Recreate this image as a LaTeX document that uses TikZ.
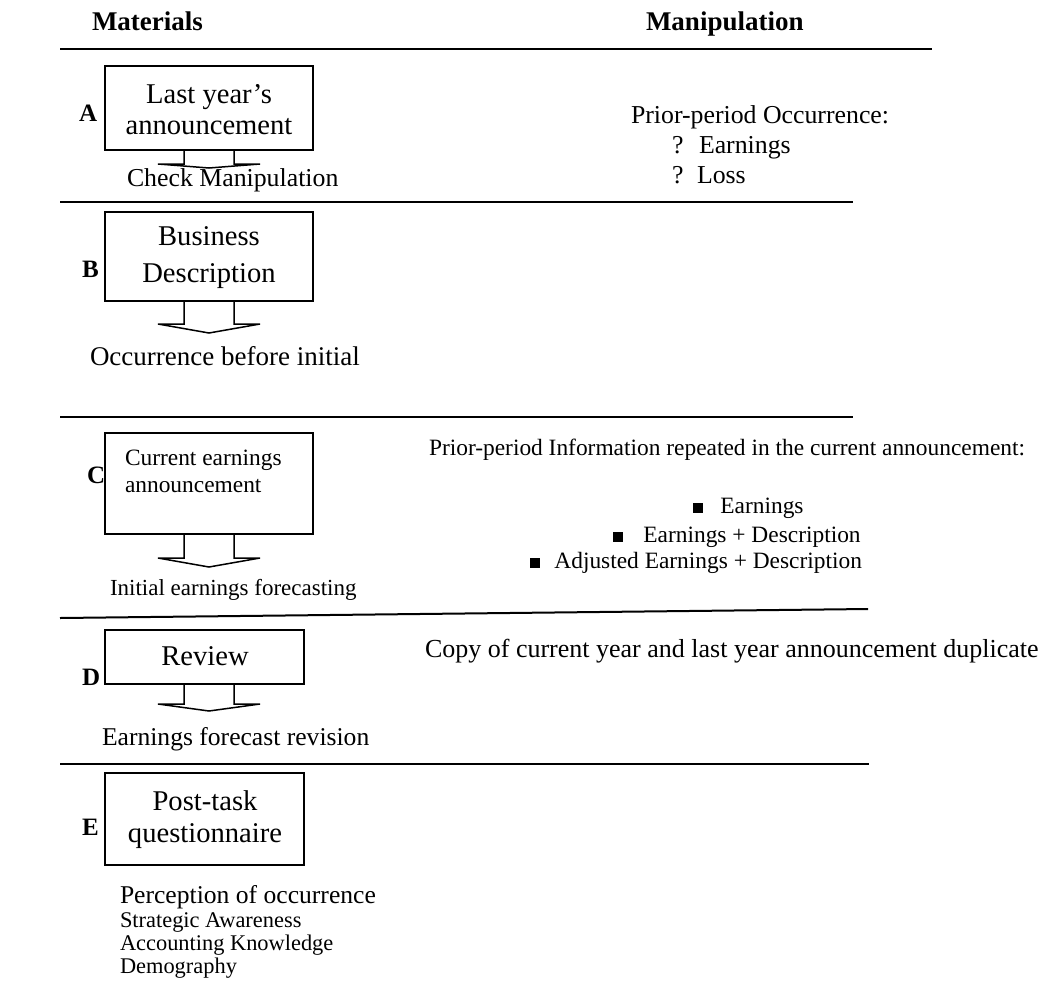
\documentclass[tikz,border=0pt]{standalone}
\usepackage{fontspec}
\setmainfont{Liberation Serif}
\usetikzlibrary{calc}
\newcommand\fs[1]{\fontsize{#1}{#1}\selectfont}
\newcommand\fatarr[4]{\draw[arrline] ($(#1.south)+(#2-25,0)$) -- ($(#1.south)+(#2-25,#3)$) -- ($(#1.south)+(#2-51,#3)$) -- ($(#1.south)+(#2,#3+#4)$) -- ($(#1.south)+(#2+51,#3)$) -- ($(#1.south)+(#2+25,#3)$) -- ($(#1.south)+(#2+25,0)$);}
\begin{document}
\begin{tikzpicture}[x=0.5pt,y=-0.5pt,
  box/.style={draw,line width=0.75pt,inner sep=0pt,outer sep=0pt},
  sep/.style={line width=1pt},
  arrline/.style={line width=0.75pt,line join=miter},
  txt/.style={inner sep=0pt,outer sep=0pt,anchor=base west},
  ctxt/.style={inner sep=0pt,outer sep=0pt,anchor=base},
  lab/.style={txt,font=\bfseries\fs{12.5}},
  big/.style={font=\fs{14.3}},
  mid/.style={font=\fs{12.9}},
  sml/.style={font=\fs{11.7}},
]
\useasboundingbox (0,0) rectangle (1043,985);

\node[txt,font=\bfseries\fs{13.5}] (hmat) at (92,30) {Materials};
\node[txt,font=\bfseries\fs{13.5}] (hman) at (646,30) {Manipulation};
\draw[sep] (60,49) -- (932,49);

% A
\node[box,minimum width=104pt,minimum height=42pt] (A) at (209,108) {};
\node[ctxt,big] (A1) at (209,103) {Last year’s};
\node[ctxt,big] (A2) at (209,134) {announcement};
\node[lab] (lA) at (79,121) {A};
\fatarr{A}{0}{14}{4}
\node[txt,mid] (cm) at (127,186) {Check Manipulation};
\node[txt,mid] (pp) at (631,123) {Prior-period Occurrence:};
\node[txt,mid] (q1) at (672,153) {?};
\node[txt,mid] (e1) at (699,153) {Earnings};
\node[txt,mid] (q2) at (672,183) {?};
\node[txt,mid] (l1) at (697,183) {Loss};
\draw[sep] (60,202) -- (853,202);

% B
\node[box,minimum width=104pt,minimum height=44.5pt] (B) at (209,256.5) {};
\node[ctxt,big] (B1) at (209,245) {Business};
\node[ctxt,big] (B2) at (209,282) {Description};
\node[lab] (lB) at (82,277) {B};
\fatarr{B}{0}{23}{9}
\node[txt,font=\fs{13.5}] (ob) at (90,365) {Occurrence before initial};
\draw[sep] (60,417) -- (853,417);

% C
\node[box,minimum width=104pt,minimum height=50.5pt] (C) at (209,483.5) {};
\node[txt,sml] (C1) at (125,465) {Current earnings};
\node[txt,sml] (C2) at (125,492) {announcement};
\node[lab] (lC) at (87,483) {C};
\fatarr{C}{0}{24}{9}
\node[txt,font=\fs{11.5}] (ie) at (110,595) {Initial earnings forecasting};
\node[txt,sml] (pi) at (429,455) {Prior-period Information repeated in the current announcement:};
\node[txt,sml] (b1) at (693,513) {\rule{5.2pt}{5.2pt}\hspace{8.5pt}Earnings};
\node[txt,sml] (b2) at (613,542) {\rule{5.2pt}{5.2pt}\hspace{10pt}Earnings + Description};
\node[txt,sml] (b3) at (530,568) {\rule{5.2pt}{5.2pt}\hspace{7pt}Adjusted Earnings + Description};
\draw[sep] (60,618) -- (868,609);

% D
\node[box,minimum width=99.5pt,minimum height=27pt] (D) at (204.5,657) {};
\node[ctxt,big] (D1) at (205,665) {Review};
\node[lab] (lD) at (82,685) {D};
\fatarr{D}{4.5}{20}{7}
\node[txt,font=\fs{12.8}] (er) at (102,745) {Earnings forecast revision};
\node[txt,font=\fs{13}] (cp) at (425,657) {Copy of current year and last year announcement duplicate};
\draw[sep] (60,764) -- (869,764);

% E
\node[box,minimum width=99.5pt,minimum height=46pt] (E) at (204.5,819) {};
\node[ctxt,big] (E1) at (205,810) {Post-task};
\node[ctxt,big] (E2) at (205,842) {questionnaire};
\node[lab] (lE) at (82,835) {E};
\node[txt,font=\fs{12.8}] (pe) at (120,903) {Perception of occurrence};
\node[txt,font=\fs{11.2}] (sa) at (120,927) {Strategic Awareness};
\node[txt,font=\fs{11.2}] (ak) at (120,950) {Accounting Knowledge};
\node[txt,font=\fs{11.2}] (dm) at (120,973) {Demography};
\end{tikzpicture}
\end{document}
